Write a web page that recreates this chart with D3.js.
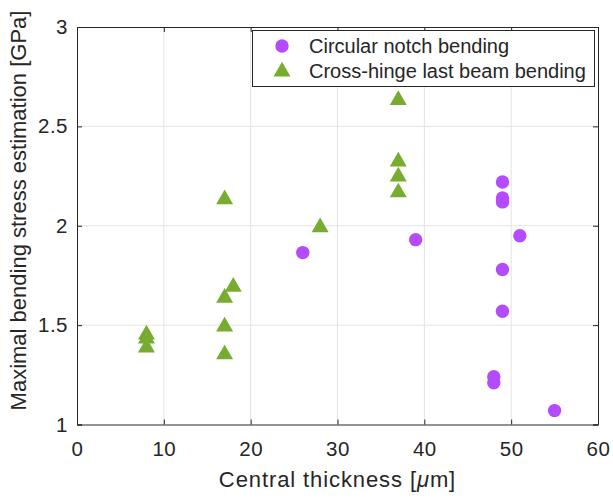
<!DOCTYPE html>
<meta charset="utf-8">
<title>Maximal bending stress estimation</title>
<style>
    body { margin: 0; background: #fff; }
    text { font-family: "Liberation Sans", Arial, sans-serif; fill: #262626; }
</style>

<svg width="613" height="499"></svg>
<script src="https://d3js.org/d3.v7.min.js"></script>
<script>

    // circular notch bending
    var notchX = [26, 39, 49, 49, 49, 51, 49, 49, 48, 48, 55];
    var notchY = [1.865, 1.93, 2.22, 2.14, 2.12, 1.95, 1.78, 1.57, 1.24, 1.21, 1.07];

    // cross-hinge last beam bending
    var hingeX = [8, 8, 8, 17, 17, 17, 17, 18, 28, 37, 37, 37, 37];
    var hingeY = [1.46, 1.44, 1.395, 2.14, 1.645, 1.50, 1.36, 1.70, 2.00, 2.64, 2.33, 2.255, 2.175];

    var xTicks = [0, 10, 20, 30, 40, 50, 60];
    var yTicks = [1, 1.5, 2, 2.5, 3];
    var seriesNames = ["Circular notch bending", "Cross-hinge last beam bending"];

    var svg = d3.select("svg"),
        plotL = 77, plotR = 598, plotT = 27, plotB = 424.5;

    var x = d3.scaleLinear().domain([0, 60]).range([plotL, plotR]);
    var y = d3.scaleLinear().domain([1, 3]).range([plotB, plotT]);

    var axisColor = "#262626";

    // grid
    svg.append("g").selectAll("line").data(xTicks.slice(1, -1)).enter().append("line")
        .attr("x1", function(d) { return x(d); }).attr("x2", function(d) { return x(d); })
        .attr("y1", plotT).attr("y2", plotB)
        .attr("stroke", "#e3e3e3").attr("stroke-width", 1);
    svg.append("g").selectAll("line").data(yTicks.slice(1, -1)).enter().append("line")
        .attr("y1", function(d) { return y(d); }).attr("y2", function(d) { return y(d); })
        .attr("x1", plotL).attr("x2", plotR)
        .attr("stroke", "#e3e3e3").attr("stroke-width", 1);

    // axes (ticks inward, MATLAB style)
    var xAxis = d3.axisBottom(x).tickValues(xTicks).tickSize(-5).tickPadding(17).tickFormat(d3.format("d"));
    var yAxis = d3.axisLeft(y).tickValues(yTicks).tickSize(-5).tickPadding(9).tickFormat(function(d) { return d; });

    var gx = svg.append("g").attr("transform", "translate(0," + plotB + ")").call(xAxis);
    var gy = svg.append("g").attr("transform", "translate(" + plotL + ",0)").call(yAxis);
    var gxTop = svg.append("g").attr("transform", "translate(0," + plotT + ")")
        .call(d3.axisTop(x).tickValues(xTicks).tickSize(-5).tickFormat(""));
    var gyRight = svg.append("g").attr("transform", "translate(" + plotR + ",0)")
        .call(d3.axisRight(y).tickValues(yTicks).tickSize(-5).tickFormat(""));

    [gx, gy, gxTop, gyRight].forEach(function(g) {
        g.select(".domain").attr("stroke", axisColor).attr("stroke-width", 1);
        g.selectAll(".tick line").attr("stroke", axisColor);
        g.selectAll(".tick text").attr("fill", axisColor)
            .style("font-family", "'Liberation Sans', Arial, sans-serif").style("font-size", "20.5px")
            .style("letter-spacing", "0.5px");
    });
    gx.selectAll(".tick text").attr("dy", "0.71em");

    // axis labels
    var xl = svg.append("text")
        .attr("x", (plotL + plotR) / 2).attr("y", 487)
        .attr("text-anchor", "middle").style("font-size", "22px").style("letter-spacing", "0.9px");
    xl.append("tspan").text("Central thickness [");
    xl.append("tspan").attr("font-style", "italic").text("\u03bc");
    xl.append("tspan").text("m]");

    svg.append("text")
        .attr("transform", "translate(25.5," + 210.5 + ") rotate(-90)")
        .attr("text-anchor", "middle").style("font-size", "22px")
        .text("Maximal bending stress estimation [GPa]");

    var purple = "#b44bfc", green = "#77ac30";
    var tri = d3.symbol().type(d3.symbolTriangle).size(125);

    // triangles
    svg.append("g").selectAll("path").data(d3.range(hingeX.length)).enter().append("path")
        .attr("transform", function(i) { return "translate(" + x(hingeX[i]) + "," + (y(hingeY[i]) + 1.5) + ")"; })
        .attr("d", tri).attr("fill", green);

    // circles
    svg.append("g").selectAll("circle").data(d3.range(notchX.length)).enter().append("circle")
        .attr("cx", function(i) { return x(notchX[i]); })
        .attr("cy", function(i) { return y(notchY[i]); })
        .attr("r", 6.7).attr("fill", purple);

    // legend
    var lg = svg.append("g");
    lg.append("rect").attr("x", 252.5).attr("y", 30.5).attr("width", 342).attr("height", 56)
        .attr("fill", "#fff").attr("stroke", axisColor).attr("stroke-width", 1);
    lg.append("circle").attr("cx", 282).attr("cy", 46).attr("r", 6.7).attr("fill", purple);
    lg.append("path").attr("transform", "translate(282,71.5)").attr("d", tri).attr("fill", green);
    lg.selectAll(".lt").data(seriesNames).enter().append("text")
        .attr("x", 309).attr("y", function(d, i) { return 46 + i * 25; })
        .attr("dy", "0.35em").style("font-size", "20px")
        .text(function(d) { return d; });

</script>
